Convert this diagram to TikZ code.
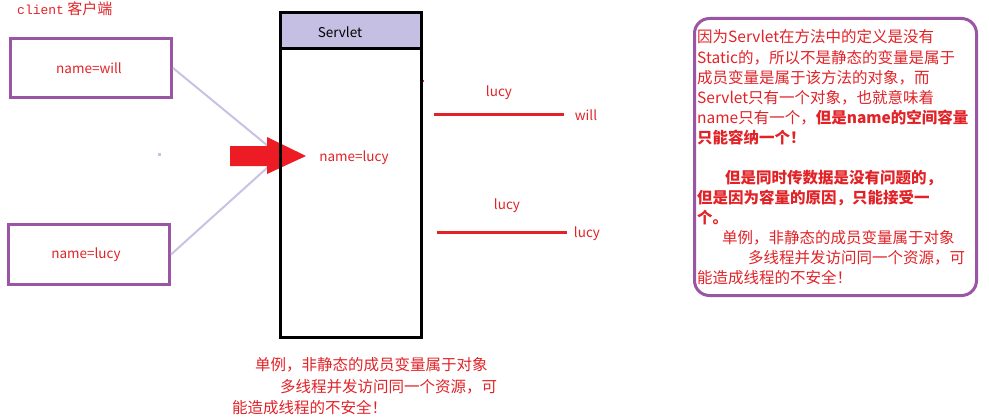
\documentclass[tikz,border=0pt]{standalone}
\usepackage{fontspec}
\newfontfamily\cjk{Noto Sans CJK SC}
\newfontfamily\monof{Liberation Mono}
\definecolor{tred}{RGB}{225,35,40}
\definecolor{ared}{RGB}{237,28,36}
\definecolor{ppl}{RGB}{155,85,165}
\definecolor{lav}{RGB}{200,195,228}
\definecolor{hdr}{RGB}{198,191,228}
\begin{document}
\begin{tikzpicture}[x=1pt,y=-1pt,
  big/.style={text=tred,font=\cjk\fontsize{15.5}{20}\selectfont,inner sep=0pt,anchor=west},
  small/.style={text=tred,font=\cjk\fontsize{13.5}{16}\selectfont,inner sep=0pt},
  pbox/.style={draw=ppl,line width=3pt,minimum width=161pt,minimum height=59pt,inner sep=0pt},
  sbox/.style={draw=black,line width=3pt,minimum width=141pt,inner sep=0pt},
  lavline/.style={draw=lav,line width=2pt},
  redline/.style={draw=tred,line width=3pt}]
\useasboundingbox (0,0) rectangle (989,420);
\fill[white] (0,0) rectangle (989,420);

% client title
\node[big,font=\cjk\fontsize{15}{16}\selectfont] (client) at (17,9) {{\monof\fontsize{13}{16}\selectfont client} 客户端};

% client boxes
\node[pbox] (will) at (91,68) {};
\node[small] (willtxt) at (89,68) {name=will};
\node[pbox,minimum height=60pt] (lucy) at (89,254.5) {};
\node[small] (lucytxt) at (86,255) {name=lucy};

% stray dots
\fill[lav] (157.5,152.5) rectangle (160.5,155.5);
\fill[tred] (421,80.5) rectangle (424,82.5);

% connectors to servlet
\coordinate (c1) at (268,146);
\coordinate (c2) at (268,167);
\draw[lavline] (will.east) -- (c1);
\draw[lavline] (lucy.east) -- (c2);

% big red arrow
\fill[ared] (230,146) -- (267,146) -- (267,137) -- (306,156) -- (267,174) -- (267,166) -- (230,166) -- cycle;

% servlet
\node[sbox,fill=hdr,minimum height=36.5pt] (head) at (351,30.75) {};
\node[sbox,minimum height=288.5pt] (body) at (351,193.25) {};
\node[small,text=black] (stitle) at (340,32) {Servlet};
\node[small] (inner) at (354,158) {name=lucy};

% red value lines
\coordinate (l1a) at (434,115);
\coordinate (l1b) at (564,115);
\coordinate (l2a) at (437,232);
\coordinate (l2b) at (567,232);
\draw[redline] (l1a) -- (l1b);
\draw[redline] (l2a) -- (l2b);
\node[small] (t1) at (499,93) {lucy};
\node[small] (t2) at (586,115) {will};
\node[small] (t3) at (507,206) {lucy};
\node[small] (t4) at (587,234) {lucy};

% bottom note
\node[big] (b1) at (255,365) {单例，非静态的成员变量属于对象};
\node[big] (b2) at (280,387) {多线程并发访问同一个资源，可};
\node[big] (b3) at (232,408) {能造成线程的不安全！};

% right note box
\node[draw=ppl,line width=3pt,rounded corners=15pt,minimum width=282pt,minimum height=277pt,inner sep=0pt] (note) at (835.5,157) {};
\node[big] (n1) at (697,37) {因为Servlet在方法中的定义是没有};
\node[big] (n2) at (697,58) {Static的，所以不是静态的变量是属于};
\node[big] (n3) at (697,78) {成员变量是属于该方法的对象，而};
\node[big] (n4) at (697,98) {Servlet只有一个对象，也就意味着};
\node[big] (n5) at (697,118) {name只有一个，{\bfseries 但是name的空间容量}};
\node[big] (n6) at (697,138) {\bfseries 只能容纳一个！};
\node[big] (n7) at (725,178) {\bfseries 但是同时传数据是没有问题的，};
\node[big] (n8) at (697,198) {\bfseries 但是因为容量的原因，只能接受一};
\node[big] (n9) at (697,218) {\bfseries 个。};
\node[big] (n10) at (722,238) {单例，非静态的成员变量属于对象};
\node[big] (n11) at (748,258) {多线程并发访问同一个资源，可};
\node[big] (n12) at (697,278) {能造成线程的不安全！};
\end{tikzpicture}
\end{document}
